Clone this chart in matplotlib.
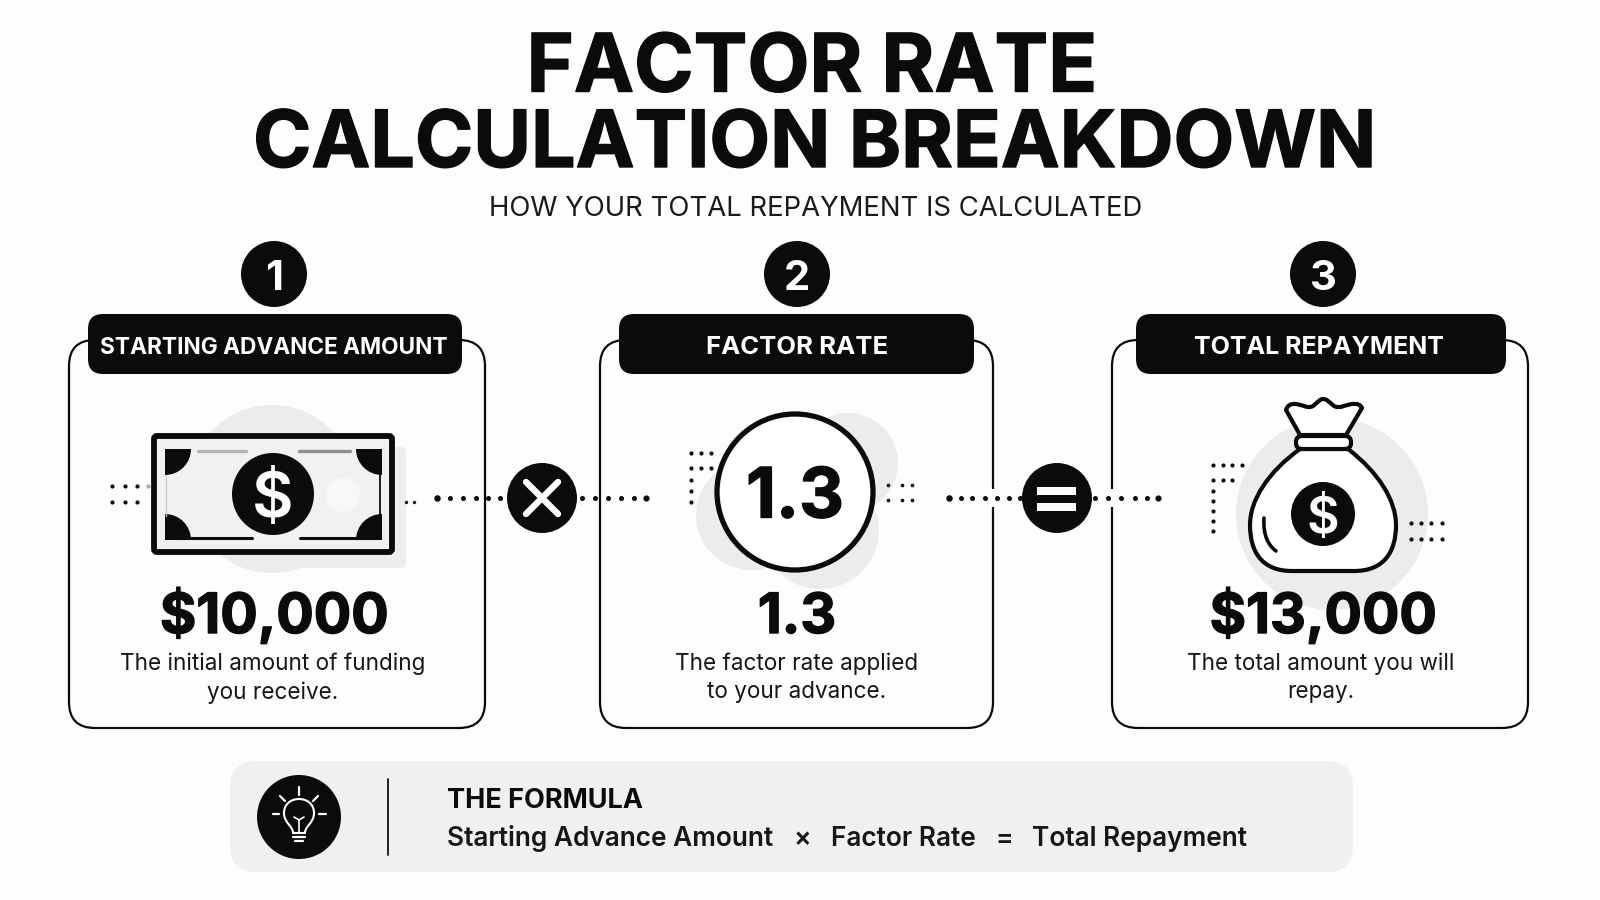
import matplotlib
matplotlib.use('Agg')
import matplotlib.pyplot as plt
import matplotlib.patheffects as pe
from matplotlib.patches import Circle, FancyBboxPatch, PathPatch, Rectangle, Wedge
from matplotlib.path import Path

# Textos
title_lines = ['FACTOR RATE', 'CALCULATION BREAKDOWN']
subtitle = 'HOW YOUR TOTAL REPAYMENT IS CALCULATED'
step_numbers = ['1', '2', '3']
step_labels = ['STARTING ADVANCE AMOUNT', 'FACTOR RATE', 'TOTAL REPAYMENT']
step_values = ['$10,000', '1.3', '$13,000']
step_notes = ['The initial amount of funding\nyou receive.',
              'The factor rate applied\nto your advance.',
              'The total amount you will\nrepay.']
formula_title = 'THE FORMULA'
formula_parts = ['Starting Advance Amount', '×', 'Factor Rate', '=', 'Total Repayment']

BLACK = '#0b0b0b'
GREY = '#ececec'
plt.rcParams['font.family'] = ['Inter', 'DejaVu Sans']

fig = plt.figure(figsize=(16, 9), dpi=100, facecolor='#fdfdfd')
ax = fig.add_axes([0, 0, 1, 1])
ax.set_xlim(0, 1600)
ax.set_ylim(900, 0)
ax.axis('off')

# Engrosa un poco las letras negras
heavy = [pe.withStroke(linewidth=1.0, foreground=BLACK)]


def rbox(x0, y0, x1, y1, r, fc, ec='none', lw=0, z=2):
    ax.add_patch(FancyBboxPatch((x0 + r, y0 + r), x1 - x0 - 2 * r, y1 - y0 - 2 * r,
                                boxstyle=f'round,pad={r},rounding_size={r}',
                                fc=fc, ec=ec, lw=lw, zorder=z))


def disc(x, y, r, fc=BLACK, ec='none', lw=0, z=3):
    ax.add_patch(Circle((x, y), r, fc=fc, ec=ec, lw=lw, zorder=z))


def stroke(xs, ys, color=BLACK, lw=2.0, z=4):
    ax.plot(xs, ys, color=color, lw=lw, solid_capstyle='round', zorder=z)


def dots(xs, ys, s=9, color=BLACK):
    ax.scatter(xs, ys, s=s, color=color, linewidths=0, zorder=6)


def dollar(x, y, size):
    ax.text(x, y, '$', fontsize=size, fontweight='semibold', color='white',
            ha='center', va='center_baseline', zorder=7)


# Título
ax.text(812, 62, title_lines[0], fontsize=58, fontweight='bold', color=BLACK, ha='center',
        va='center_baseline', path_effects=heavy)
ax.text(815, 138, title_lines[1], fontsize=56.8, fontweight='bold', color=BLACK, ha='center',
        va='center_baseline', path_effects=heavy)
ax.text(816, 206, subtitle, fontsize=19.8, color='#1a1a1a', ha='center', va='center_baseline')

# Tarjetas
cards = [(69, 485), (600, 993), (1112, 1528)]
pills = [(88, 462), (619, 974), (1136, 1506)]
centers = [274, 797, 1323]
label_x = [274, 797, 1319]
label_sizes = [16.3, 18.5, 18]
value_x = [274, 797, 1323]
note_x = [273, 797, 1321]
for i in range(3):
    x0, x1 = cards[i]
    rbox(x0, 340, x1, 728, 26, 'none', ec=BLACK, lw=1.6, z=2)
    rbox(pills[i][0], 314, pills[i][1], 374, 15, BLACK, z=3)
    ax.text(label_x[i], 345, step_labels[i], fontsize=label_sizes[i], fontweight='bold', color='white',
            ha='center', va='center_baseline', zorder=4)
    disc(centers[i], 274, 33)
    ax.text(centers[i], 275, step_numbers[i], fontsize=30, fontweight='bold', color='white',
            ha='center', va='center_baseline', zorder=4)
    ax.text(value_x[i], 633, step_values[i], fontsize=40, fontweight='bold', color=BLACK,
            ha='center', va='baseline', zorder=4, path_effects=heavy)
    ax.text(note_x[i], 678, step_notes[i], fontsize=16.2, color='#161616',
            ha='center', va='center', linespacing=1.36, zorder=4)

# Huecos en los bordes donde pasan los puntos
for gx in (993, 1112):
    ax.add_patch(Rectangle((gx - 3, 489), 6, 18, fc='#fdfdfd', ec='none', zorder=2.5))

# Billete
disc(272, 489, 84, fc=GREY, z=2.2)
rbox(300, 447, 406, 568, 5, '#eeeeee', z=2.1)
rbox(154, 436, 392, 552, 3, '#f1f1f1', ec=BLACK, lw=4.2, z=3)
disc(343, 495, 17, fc='#f8f8f8', z=3.1)
for cx, cy, t1, t2 in [(165, 449, 0, 90), (382, 449, 90, 180), (165, 540, 270, 360), (382, 540, 180, 270)]:
    ax.add_patch(Wedge((cx, cy), 26, t1, t2, fc=BLACK, ec='none', zorder=4))
stroke([170, 252], [538, 538], lw=2.2)
stroke([300, 378], [538, 538], lw=2.2)
stroke([198, 246], [451, 451], color='#b5b5b5', lw=2.4)
stroke([299, 350], [451, 451], color='#8f8f8f', lw=2.4)
stroke([380, 380], [472, 516], lw=1.3)
stroke([166, 166], [475, 516], color='#cccccc', lw=1.0)
disc(273, 494, 41, z=5)
dollar(273, 494, 46)
dots([112, 125, 137], [486] * 3)
dots([148], [486], color='#aaaaaa')
dots([112, 125, 137], [502] * 3)
dots([406, 414], [502] * 2, s=6)

# Operador ×
dots([437], [498], s=22)
dots([450, 463, 476, 488, 500, 512], [498] * 6, s=13)
disc(542, 498, 35, z=5)
stroke([526, 558], [482, 514], color='white', lw=4.6, z=6)
stroke([526, 558], [514, 482], color='white', lw=4.6, z=6)
dots([582, 595, 608, 621, 634], [498] * 5, s=13)
dots([646], [498], s=20)

# Círculo 1.3
disc(848, 463, 50, fc=GREY, z=2.2)
disc(751, 515, 55, fc=GREY, z=2.2)
disc(820, 530, 59, fc=GREY, z=2.2)
disc(795, 492, 78, fc='white', ec=BLACK, lw=3.8, z=3)
ax.text(795, 492, step_values[1], fontsize=50, fontweight='bold', color=BLACK,
        ha='center', va='center_baseline', zorder=5, path_effects=heavy)
dots([691, 701, 711], [453] * 3)
dots([691, 701, 711], [468] * 3)
dots([691] * 3, [480, 491, 502])
dots([888, 902, 912], [485] * 3, s=7)
dots([888, 902, 912], [500] * 3, s=7)

# Operador =
dots([949], [498], s=22)
dots([961, 972, 985, 997, 1009, 1020], [498] * 6, s=13)
disc(1057, 498, 35, z=5)
ax.add_patch(Rectangle((1037, 487), 39, 7.5, fc='white', ec='none', zorder=6))
ax.add_patch(Rectangle((1037, 503), 39, 7.5, fc='white', ec='none', zorder=6))
dots([1095, 1108, 1121, 1135, 1147], [498] * 5, s=13)
dots([1158], [498], s=20)

# Bolsa
disc(1332, 514, 96, fc=GREY, z=2.2)
bag = Path([(1300, 449), (1268, 472), (1250, 500), (1250, 525),
            (1250, 552), (1262, 571), (1292, 571),
            (1354, 571), (1384, 571), (1396, 552), (1396, 525),
            (1396, 500), (1378, 472), (1348, 449), (1300, 449)],
           [Path.MOVETO, Path.CURVE4, Path.CURVE4, Path.CURVE4,
            Path.CURVE4, Path.CURVE4, Path.CURVE4,
            Path.LINETO, Path.CURVE4, Path.CURVE4, Path.CURVE4,
            Path.CURVE4, Path.CURVE4, Path.CURVE4, Path.CLOSEPOLY])
ax.add_patch(PathPatch(bag, fc='white', ec=BLACK, lw=3.0, joinstyle='round', zorder=3))
tie = Path([(1300, 435), (1286, 410), (1288, 403), (1296, 404),
            (1303, 405), (1308, 409), (1313, 406),
            (1318, 402), (1320, 399), (1323, 399),
            (1327, 399), (1329, 402), (1334, 406),
            (1340, 409), (1345, 405), (1352, 404),
            (1360, 403), (1362, 408), (1346, 435), (1300, 435)],
           [Path.MOVETO, Path.LINETO, Path.CURVE3, Path.CURVE3,
            Path.CURVE4, Path.CURVE4, Path.CURVE4,
            Path.CURVE4, Path.CURVE4, Path.CURVE4,
            Path.CURVE4, Path.CURVE4, Path.CURVE4,
            Path.CURVE4, Path.CURVE4, Path.CURVE4,
            Path.CURVE3, Path.CURVE3, Path.LINETO, Path.CLOSEPOLY])
ax.add_patch(PathPatch(tie, fc='white', ec=BLACK, lw=3.0, joinstyle='round', zorder=3))
rbox(1296, 436, 1351, 449, 6, 'white', ec=BLACK, lw=3.0, z=4)
highlight = Path([(1264, 518), (1263, 535), (1268, 545), (1276, 551)],
                 [Path.MOVETO, Path.CURVE4, Path.CURVE4, Path.CURVE4])
ax.add_patch(PathPatch(highlight, fc='none', ec=BLACK, lw=2.6, capstyle='round', zorder=4))
disc(1323, 514, 32, z=5)
dollar(1323, 514, 36)
dots([1213, 1223, 1232, 1242], [465] * 4)
dots([1213, 1223, 1232], [480] * 3)
dots([1213] * 5, [491, 501, 511, 521, 531])
dots([1411, 1421, 1431, 1442], [523] * 4)
dots([1411, 1421, 1431, 1442], [539] * 4)

# Panel de la fórmula
rbox(230, 761, 1353, 872, 26, '#f0f0f0', z=1)
disc(299, 817, 42, z=2)
stroke([388, 388], [779, 855], color='#222222', lw=1.4)
ax.text(447, 798, formula_title, fontsize=19.5, fontweight='bold', color=BLACK, va='center_baseline')
for part, px in zip(formula_parts, [447, 802, 830.6, 1004, 1032]):
    ax.text(px, 836, part, fontsize=18.9, fontweight='semibold', color='#161616',
            ha='center' if len(part) == 1 else 'left', va='center_baseline')

# Bombilla
ax.add_patch(PathPatch(Path([(293, 833), (293, 826), (284, 823), (284, 813),
                             (284, 804), (291, 799), (299, 799),
                             (307, 799), (314, 804), (314, 813),
                             (314, 823), (305, 826), (305, 833), (293, 833)],
                            [Path.MOVETO, Path.CURVE4, Path.CURVE4, Path.CURVE4,
                             Path.CURVE4, Path.CURVE4, Path.CURVE4,
                             Path.CURVE4, Path.CURVE4, Path.CURVE4,
                             Path.CURVE4, Path.CURVE4, Path.CURVE4, Path.CLOSEPOLY]),
                       fc='none', ec='white', lw=1.5, zorder=4))
stroke([299, 299], [833, 820], color='white', lw=1.2)
stroke([294, 299, 304], [817, 820, 817], color='white', lw=1.2)
stroke([293, 305], [837, 837], color='white', lw=1.6)
stroke([295, 303], [841, 841], color='white', lw=1.6)
stroke([299, 299], [787, 795], color='white', lw=1.6)
stroke([280, 285], [796, 801], color='white', lw=1.6)
stroke([318, 313], [796, 801], color='white', lw=1.6)
stroke([273, 279], [814, 814], color='white', lw=1.6)
stroke([319, 326], [814, 814], color='white', lw=1.6)

fig.savefig('out.png', dpi=100, facecolor=fig.get_facecolor())
